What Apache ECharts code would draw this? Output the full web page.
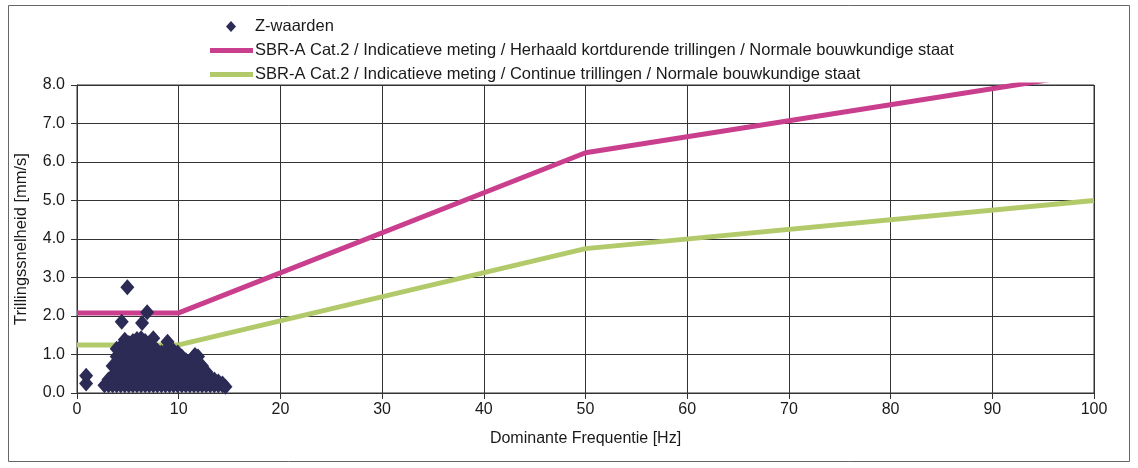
<!DOCTYPE html>
<html><head><meta charset="utf-8">
<script src="https://cdn.jsdelivr.net/npm/echarts@6/dist/echarts.min.js"></script>
<style>html,body{margin:0;padding:0;background:#fff}#c{width:1138px;height:468px}</style>
</head><body><div id="c"></div>
<script>
// Series names
const scatterName = 'Z-waarden';
const line1Name = 'SBR-A Cat.2 / Indicatieve meting / Herhaald kortdurende trillingen / Normale bouwkundige staat';
const line2Name = 'SBR-A Cat.2 / Indicatieve meting / Continue trillingen / Normale bouwkundige staat';

// Limit lines [freq Hz, mm/s]
const line1Freq = [0, 10, 50, 100];
const line1Vel  = [2.08, 2.08, 6.24, 8.32];
const line2Freq = [0, 10, 50, 100];
const line2Vel  = [1.25, 1.25, 3.75, 5.0];

const zFreq = [
  0.9,0.9,
  2.7,
  3.1,3.1,
  3.5,3.5,3.5,
  3.9,3.9,3.9,3.9,3.9,
  4.3,4.3,4.3,4.3,4.3,4.4,
  4.7,4.7,4.7,4.7,4.7,4.7,
  5.1,5.1,5.1,5.1,5.1,5.1,4.95,
  5.5,5.5,5.5,5.5,5.5,5.5,
  5.9,5.9,5.9,5.9,5.9,5.9,
  6.3,6.3,6.3,6.3,6.3,6.3,6.4,
  6.7,6.7,6.7,6.7,6.7,6.7,6.9,
  7.1,7.1,7.1,7.1,7.1,7.1,
  7.5,7.5,7.5,7.5,7.5,7.5,
  7.9,7.9,7.9,7.9,7.9,
  8.3,8.3,8.3,8.3,8.3,
  8.7,8.7,8.7,8.7,8.7,8.9,
  9.1,9.1,9.1,9.1,9.1,
  9.5,9.5,9.5,9.5,9.5,
  9.9,9.9,9.9,9.9,9.9,
  10.3,10.3,10.3,10.3,
  10.7,10.7,10.7,10.7,
  11.1,11.1,11.1,11.1,
  11.5,11.5,11.5,11.5,11.6,
  11.9,11.9,11.9,11.9,
  12.3,12.3,12.3,
  12.7,12.7,12.7,
  13.1,13.1,
  13.5,13.5,
  13.9,13.9,
  14.3,14.3,
  14.6
];
const zVel = [
  0.25,0.45,
  0.2,
  0.2,0.35,
  0.2,0.45,0.7,
  0.2,0.45,0.7,0.95,1.15,
  0.2,0.45,0.7,0.95,1.2,1.85,
  0.2,0.45,0.7,0.95,1.2,1.38,
  0.2,0.45,0.7,0.95,1.2,1.3,2.75,
  0.2,0.45,0.7,0.95,1.2,1.35,
  0.2,0.45,0.7,0.95,1.2,1.4,
  0.2,0.45,0.7,0.95,1.2,1.42,1.82,
  0.2,0.45,0.7,0.95,1.2,1.35,2.1,
  0.2,0.45,0.7,0.95,1.2,1.3,
  0.2,0.45,0.7,0.95,1.2,1.42,
  0.2,0.45,0.7,0.95,1.1,
  0.2,0.45,0.7,0.95,1.05,
  0.2,0.45,0.7,0.95,1.1,1.33,
  0.2,0.45,0.7,0.95,1.15,
  0.2,0.45,0.7,0.95,1.1,
  0.2,0.45,0.7,0.95,1.05,
  0.2,0.45,0.7,0.95,
  0.2,0.45,0.7,0.85,
  0.2,0.45,0.7,0.8,
  0.2,0.45,0.7,0.95,0.99,
  0.2,0.45,0.7,0.95,
  0.2,0.45,0.7,
  0.2,0.45,0.55,
  0.2,0.4,
  0.2,0.35,
  0.2,0.3,
  0.2,0.25,
  0.16
];

const xTicks = [0,10,20,30,40,50,60,70,80,90,100];
const yTicks = [0,1,2,3,4,5,6,7,8];

const zip = (a, b) => a.map((v, i) => [v, b[i]]);
const font = 'Liberation Sans, Arial, sans-serif';
const txt = '#1a1a1a';
const fs = 16;

const chart = echarts.init(document.getElementById('c'), null, {renderer: 'canvas'});
chart.setOption({
  animation: false,
  backgroundColor: '#fff',
  graphic: [{
    type: 'rect', shape: {x: 8.5, y: 5.5, width: 1121, height: 456},
    style: {fill: 'none', stroke: '#666', lineWidth: 1}, silent: true, z: -1
  }],
  legend: [{
    data: [{name: scatterName, icon: 'diamond'}],
    left: 221, top: 13, itemWidth: 10, itemHeight: 11,
    textStyle: {fontFamily: font, fontSize: fs + 0.5, color: txt, padding: [0, 0, 0, 14]},
    selectedMode: false
  }, {
    data: [{name: line1Name, icon: 'rect'}, {name: line2Name, icon: 'rect'}],
    orient: 'vertical', left: 205, top: 36, itemWidth: 43, itemHeight: 5, itemGap: 5,
    textStyle: {fontFamily: font, fontSize: fs + 0.5, color: txt, padding: [0, 0, 0, -3], lineHeight: 19},
    selectedMode: false
  }],
  grid: {left: 77, right: 44, top: 85, bottom: 75, containLabel: false, show: true, borderColor: '#333', borderWidth: 1},
  xAxis: {
    type: 'value', min: 0, max: 100, interval: 10,
    name: 'Dominante Frequentie [Hz]', nameLocation: 'middle', nameGap: 38,
    nameTextStyle: {fontFamily: font, fontSize: fs, color: txt},
    axisLine: {show: true, lineStyle: {color: '#333'}},
    axisTick: {show: true, length: 6, inside: false, lineStyle: {color: '#333'}},
    axisLabel: {fontFamily: font, fontSize: fs, color: txt, margin: 9, formatter: v => xTicks.includes(v) ? String(v) : ''},
    splitLine: {show: true, lineStyle: {color: '#333', width: 1}}
  },
  yAxis: {
    type: 'value', min: 0, max: 8, interval: 1,
    name: 'Trillingssnelheid [mm/s]', nameLocation: 'middle', nameGap: 47,
    nameTextStyle: {fontFamily: font, fontSize: fs + 0.5, color: txt},
    axisLine: {show: true, lineStyle: {color: '#333'}},
    axisTick: {show: true, length: 6, lineStyle: {color: '#333'}},
    axisLabel: {fontFamily: font, fontSize: fs, color: txt, margin: 12, formatter: v => yTicks.includes(v) ? v.toFixed(1) : ''},
    splitLine: {show: true, lineStyle: {color: '#333', width: 1}}
  },
  series: [{
    name: scatterName, type: 'scatter', symbol: 'diamond', symbolSize: [14, 16],
    itemStyle: {color: '#2c2b55', opacity: 1}, data: zip(zFreq, zVel), z: 3
  }, {
    name: line1Name, type: 'line', showSymbol: false, symbol: 'none',
    lineStyle: {color: '#c93f8e', width: 5}, itemStyle: {color: '#c93f8e'},
    data: zip(line1Freq, line1Vel), z: 2, clip: true
  }, {
    name: line2Name, type: 'line', showSymbol: false, symbol: 'none',
    lineStyle: {color: '#b3ca6b', width: 5}, itemStyle: {color: '#b3ca6b'},
    data: zip(line2Freq, line2Vel), z: 2, clip: true
  }]
});
</script></body></html>
